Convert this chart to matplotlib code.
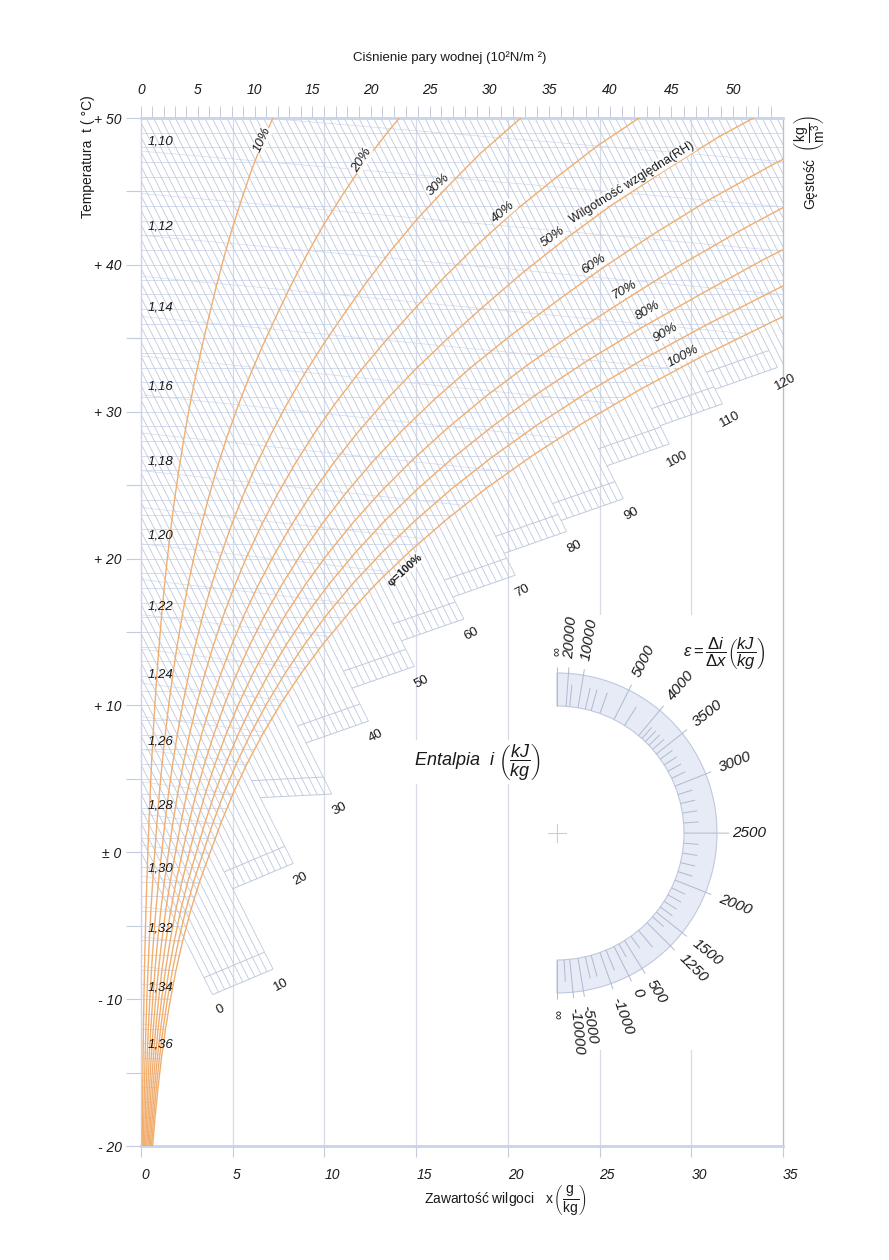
import numpy as np
import matplotlib
matplotlib.use("Agg")
import matplotlib.pyplot as plt
from matplotlib.collections import LineCollection
from matplotlib.patches import Polygon, Wedge

plt.rcParams['font.family'] = ['Liberation Sans', 'DejaVu Sans']
plt.rcParams['mathtext.fontset'] = 'custom'
plt.rcParams['mathtext.rm'] = 'Liberation Sans'
plt.rcParams['mathtext.it'] = 'Liberation Sans:italic'
plt.rcParams['mathtext.bf'] = 'Liberation Sans:bold'
plt.rcParams['mathtext.sf'] = 'Liberation Sans'

# ---------------- data ----------------
pressure_total_hpa = 1013.25
sat_temperature_c = [-20, -18, -16, -14, -12, -10, -8, -6, -4, -2, 0, 2, 4, 6, 8, 10,
                     12, 14, 16, 18, 20, 22, 24, 26, 28, 30, 32, 34, 36, 38, 40, 42,
                     44, 46, 48, 50]
# saturation pressure as drawn on the chart (hPa)
sat_pressure_hpa = [1.03, 1.25, 1.51, 1.81, 2.17, 2.60, 3.10, 3.69, 4.37, 5.17, 6.11,
                    7.06, 8.13, 9.35, 10.73, 12.28, 14.03, 15.99, 18.18, 20.64, 23.39,
                    26.45, 29.85, 33.63, 37.82, 42.46, 47.59, 53.22, 59.3, 65.6,
                    72.5, 80.0, 88.5, 97.5, 108.0, 119.5]
rh_levels = [10, 20, 30, 40, 50, 60, 70, 80, 90, 100]
enthalpy_labels = [0, 10, 20, 30, 40, 50, 60, 70, 80, 90, 100, 110, 120]
band_left_x = [3.9, 5.0, 6.5, 9.0, 11.5, 14.2, 17.0, 19.8, 22.9, 25.4, 28.3, 31.3]
band_right_x = [7.2, 8.3, 10.4, 12.4, 14.9, 17.6, 20.4, 23.2, 26.3, 28.8, 31.7, 34.7]
density_levels = [1.10, 1.12, 1.14, 1.16, 1.18, 1.20, 1.22, 1.24, 1.26, 1.28, 1.30,
                  1.32, 1.34, 1.36]
density_labels = ['1,10', '1,12', '1,14', '1,16', '1,18', '1,20', '1,22', '1,24',
                  '1,26', '1,28', '1,30', '1,32', '1,34', '1,36']
temp_ticks = [50, 40, 30, 20, 10, 0, -10, -20]
temp_tick_labels = ['+ 50', '+ 40', '+ 30', '+ 20', '+ 10', '± 0', '- 10', '- 20']
moisture_ticks = [0, 5, 10, 15, 20, 25, 30, 35]
pressure_ticks = [0, 5, 10, 15, 20, 25, 30, 35, 40, 45, 50]
eps_major = [20000, 10000, 5000, 4000, 3500, 3000, 2500, 2000, 1500, 1250, 500, 0,
             -1000, -5000, -10000]
eps_major_labels = ['20000', '10000', '5000', '4000', '3500', '3000', '2500', '2000',
                    '1500', '1250', '500', '0', '-1000', '-5000', '-10000']
eps_minor = [15000, 8000, 7000, 6000, 4500, 3900, 3800, 3700, 3600, 3400, 3300, 3200,
             3100, 2900, 2800, 2700, 2600, 2400, 2300, 2200, 2100, 1900, 1800, 1700,
             1600, 1400, 1000, 750, 250, -500, -2000, -3000, -20000]

# ---------------- layout / style ----------------
FIG_W, FIG_H = 889, 1260
AX_L, AX_R, AX_T, AX_B = 141, 783, 118, 1146
X_MIN, X_MAX, Y_MIN, Y_MAX = 0, 35, -20, 50
PX_X = (AX_R - AX_L) / (X_MAX - X_MIN)
PX_Y = (AX_B - AX_T) / (Y_MAX - Y_MIN)
GRID = '#cdd6ea'
GRID2 = '#bfc9de'
ORANGE = '#f1ae6e'
TXT = '#1a1a1a'


def px2data(px, py):
    return X_MIN + (px - AX_L) / PX_X, Y_MAX - (py - AX_T) / PX_Y


def chart_y(t, x_gkg):
    # Mollier chart vertical coordinate (skewed temperature)
    return np.asarray(t) * (1.006 + 1.86 * np.asarray(x_gkg) / 1000.0) / 1.006


def x_from_p(p):
    p = np.asarray(p, dtype=float)
    return 622.0 * p / (pressure_total_hpa - p)


def p_from_x(x):
    x = np.asarray(x, dtype=float)
    return x * pressure_total_hpa / (622.0 + x)


def enth_y(h, x_gkg):
    return (h - 2.501 * np.asarray(x_gkg)) / 1.006


fig = plt.figure(figsize=(FIG_W / 100, FIG_H / 100), dpi=100)
ax = fig.add_axes([AX_L / FIG_W, 1 - AX_B / FIG_H,
                   (AX_R - AX_L) / FIG_W, (AX_B - AX_T) / FIG_H])
ax.set_xlim(X_MIN, X_MAX)
ax.set_ylim(Y_MIN, Y_MAX)

t_arr = np.array(sat_temperature_c, dtype=float)
ps_arr = np.array(sat_pressure_hpa, dtype=float)

# unsaturated region (clip path)
xs_sat = x_from_p(ps_arr)
ys_sat = chart_y(t_arr, xs_sat)
verts = [(0, Y_MIN - 1)] + list(zip(xs_sat, ys_sat)) + [(0, Y_MAX + 15)]
clip_poly = Polygon(verts, closed=True, transform=ax.transData,
                    facecolor='none', edgecolor='none')
ax.add_patch(clip_poly)

# horizontal grid (1 degree)
hsegs = [[(X_MIN, yv), (X_MAX, yv)] for yv in range(Y_MIN + 1, Y_MAX)]
lc = LineCollection(hsegs, colors=GRID, linewidths=0.6, zorder=1)
ax.add_collection(lc)
lc.set_clip_path(clip_poly)

# density lines
xg = np.linspace(0, 35, 8) / 1000.0
dsegs = []
for rho in np.arange(1.08, 1.405, 0.01):
    T = pressure_total_hpa * 100 * (1 + xg) / (287.05 * rho * (1 + 1.608 * xg))
    yv = chart_y(T - 273.15, xg * 1000)
    dsegs.append(list(zip(xg * 1000, yv)))
dlc = LineCollection(dsegs, colors='#d3dbec', linewidths=0.5, zorder=1)
ax.add_collection(dlc)
dlc.set_clip_path(clip_poly)

# vertical grid lines
for xv in moisture_ticks[1:-1]:
    ax.axvline(xv, color='#d6dbe6', lw=0.9, zorder=0.5)

# enthalpy lines
esegs = []
ends = {}
for h in range(0, 138):
    if h == 0:
        xe = band_left_x[0]
    elif h <= 120:
        k = (h - 1) // 10
        s = (h - 10 * k) / 10.0
        xe = band_left_x[k] + s * (band_right_x[k] - band_left_x[k])
    else:
        xe = X_MAX
    ye = enth_y(h, xe)
    ends[h] = (xe, ye)
    esegs.append([(0, enth_y(h, 0)), (xe, ye)])
elc = LineCollection(esegs, colors=GRID2, linewidths=0.6, zorder=1.2)
ax.add_collection(elc)

# ruler bands
rsegs = []
shift_x, shift_y = -19 * 0.449 / PX_X, 19 * 0.894 / PX_Y
for k in range(len(band_left_x)):
    xL, xR = band_left_x[k], band_right_x[k]
    yL, yR = enth_y(10 * k, xL), enth_y(10 * k + 10, xR)
    rsegs.append([(xL, yL), (xR, yR)])
    rsegs.append([(xL + shift_x, yL + shift_y), (xR + shift_x, yR + shift_y)])
rlc = LineCollection(rsegs, colors=GRID2, linewidths=0.7, zorder=1.2)
ax.add_collection(rlc)

# enthalpy labels
lab_dx, lab_dy = 17 * 0.449 / PX_X, -17 * 0.894 / PX_Y
for h in enthalpy_labels:
    xe, ye = ends[h]
    ax.text(xe + lab_dx, ye + lab_dy, str(h), rotation=28, ha='center', va='center',
            fontsize=9.5, color=TXT, zorder=5)

# RH curves
for phi in rh_levels:
    p = phi / 100.0 * ps_arr
    xv = x_from_p(p)
    ax.plot(xv, chart_y(t_arr, xv), color=ORANGE, lw=1.0, zorder=3)

# RH labels (pixel positions)
rh_lab_pos = [(262, 140), (362, 160), (438, 185), (503, 212), (553, 237), (594, 264),
              (625, 290), (648, 311), (666, 333), (683, 356)]
rh_lab_rot = [66, 57, 43, 40, 35, 33, 30, 30, 30, 28]
for phi, (px, py), rot in zip(rh_levels, rh_lab_pos, rh_lab_rot):
    dx, dy = px2data(px, py)
    ax.text(dx, dy, f'{phi}%', rotation=rot, ha='center', va='center', fontsize=9.5,
            fontstyle='italic', color=TXT, zorder=6,
            bbox=dict(boxstyle='square,pad=0.05', fc='white', ec='none', alpha=0.85))
dx, dy = px2data(632, 183)
ax.text(dx, dy, 'Wilgotność względna(RH)', rotation=32, ha='center', va='center',
        fontsize=9, color=TXT, zorder=6,
        bbox=dict(boxstyle='square,pad=0.05', fc='white', ec='none', alpha=0.85))
dx, dy = px2data(405, 570)
ax.text(dx, dy, 'φ=100%', rotation=42, ha='center', va='center', fontsize=8,
        fontweight='bold', color=TXT, zorder=6,
        bbox=dict(boxstyle='square,pad=0.05', fc='white', ec='none', alpha=0.85))

# density labels
for rho, lab in zip(density_levels, density_labels):
    T = pressure_total_hpa * 100 * (1 + 0.0012) / (287.05 * rho * (1 + 1.608 * 0.0012))
    yv = chart_y(T - 273.15, 1.2)
    ax.text(0.35, yv + 0.75, lab, ha='left', va='center', fontsize=9.5,
            fontstyle='italic', color=TXT, zorder=6)

# axes styling
for side in ['top', 'bottom']:
    ax.spines[side].set_color('#c9d4ea')
    ax.spines[side].set_linewidth(2)
ax.spines['left'].set_color('#c9d4ea')
ax.spines['left'].set_linewidth(1)
ax.spines['right'].set_color('#b8c0d0')
ax.spines['right'].set_linewidth(1)

ax.set_yticks(temp_ticks)
ax.set_yticklabels(temp_tick_labels)
ax.set_yticks([45, 35, 25, 15, 5, -5, -15], minor=True)
ax.tick_params(axis='y', which='both', length=11, width=0.8, color='#c3cbdc',
               labelsize=10, pad=3, labelcolor=TXT)
for lbl in ax.get_yticklabels():
    lbl.set_fontstyle('italic')

ax.set_xticks(moisture_ticks)
ax.set_xticklabels([str(v) for v in moisture_ticks], ha='left')
ax.tick_params(axis='x', which='both', length=8, width=0.8, color='#c3cbdc',
               labelsize=10, pad=8, labelcolor=TXT)
for lbl in ax.get_xticklabels():
    lbl.set_fontstyle('italic')

secax = ax.secondary_xaxis('top', functions=(p_from_x, x_from_p))
secax.set_xticks(pressure_ticks)
secax.set_xticklabels([str(v) for v in pressure_ticks])
secax.set_xticks(list(range(1, 54)), minor=True)
secax.tick_params(axis='x', which='both', length=9, width=0.7, color='#c3cbdc',
                  labelsize=10, pad=6, labelcolor=TXT)
secax.spines['top'].set_visible(False)
for lbl in secax.get_xticklabels():
    lbl.set_fontstyle('italic')

# figure-level titles
fig.text(450 / FIG_W, 1 - 58 / FIG_H, 'Ciśnienie pary wodnej (10²N/m ²)',
         ha='center', va='center', fontsize=9.5, color=TXT)
fig.text(88 / FIG_W, 1 - 157 / FIG_H, 'Temperatura  t ( °C)', rotation=90,
         ha='center', va='center', fontsize=10, color=TXT)
fig.text(810 / FIG_W, 1 - 162 / FIG_H,
         r'Gęstość  $\left(\dfrac{\mathrm{kg}}{\mathrm{m}^3}\right)$', rotation=90,
         ha='center', va='center', fontsize=10, color=TXT)
fig.text(505 / FIG_W, 1 - 1200 / FIG_H,
         r'Zawartość wilgoci   $\mathrm{x}\,\left(\dfrac{\mathrm{g}}{\mathrm{kg}}\right)$',
         ha='center', va='center', fontsize=10, color=TXT)

dx, dy = px2data(478, 762)
ax.text(dx, dy, r'$Entalpia\ \ i\ \left(\dfrac{kJ}{kg}\right)$', ha='center',
        va='center', fontsize=13, color=TXT, zorder=6,
        bbox=dict(boxstyle='square,pad=0.1', fc='white', ec='none'))

# ---------------- protractor ----------------
BX0, BX1, BY0, BY1 = 540, 780, 615, 1050
ax2 = fig.add_axes([BX0 / FIG_W, 1 - BY1 / FIG_H, (BX1 - BX0) / FIG_W, (BY1 - BY0) / FIG_H])
ax2.set_xlim(BX0, BX1)
ax2.set_ylim(BY1, BY0)
ax2.set_xticks([])
ax2.set_yticks([])
for s in ax2.spines.values():
    s.set_visible(False)
ax2.set_facecolor('white')

CX, CY, R_IN, R_OUT = 557, 833, 127, 160
ax2.add_patch(Wedge((CX, CY), R_OUT, -90, 90, width=R_OUT - R_IN,
                    facecolor='#e7ebf6', edgecolor='#bfc8de', lw=0.8))


def eps_theta(e):
    return np.arctan((e - 2501) / 1.006 / 1000.0 * PX_Y / PX_X)


def radial(theta, r0, r1):
    c, s = np.cos(theta), np.sin(theta)
    return [(CX + r0 * c, CY - r0 * s), (CX + r1 * c, CY - r1 * s)]


tsegs = []
for e in eps_minor:
    th = eps_theta(e)
    ln = 22 if e % 500 == 0 else 15
    tsegs.append(radial(th, R_IN, R_IN + ln))
for e in eps_major:
    th = eps_theta(e)
    tsegs.append(radial(th, R_IN, R_OUT + (12 if e == 2500 else 6)))
tsegs.append(radial(np.pi / 2, R_IN, R_OUT + 6))
tsegs.append(radial(-np.pi / 2, R_IN, R_OUT + 6))
ax2.add_collection(LineCollection(tsegs, colors='#aeb9d2', linewidths=0.7))

for e, lab in zip(eps_major, eps_major_labels):
    th = eps_theta(e)
    r = R_OUT + 15
    ax2.text(CX + r * np.cos(th), CY - r * np.sin(th), lab, rotation=np.degrees(th),
             rotation_mode='anchor', ha='left', va='center', fontsize=11,
             fontstyle='italic', color=TXT)
for th in (np.pi / 2, -np.pi / 2):
    r = R_OUT + 17
    ax2.text(CX + r * np.cos(th), CY - r * np.sin(th), '∞', rotation=np.degrees(th),
             rotation_mode='anchor', ha='left', va='center', fontsize=9, color=TXT)

ax2.plot([CX - 9, CX + 9], [CY, CY], color='#c8d0e0', lw=0.8)
ax2.plot([CX, CX], [CY - 9, CY + 9], color='#c8d0e0', lw=0.8)

ax2.text(724, 654, r'$\varepsilon = \dfrac{\Delta i}{\Delta x}\left(\dfrac{kJ}{kg}\right)$',
         ha='center', va='center', fontsize=12, color=TXT)

fig.savefig('out.png', dpi=100)
